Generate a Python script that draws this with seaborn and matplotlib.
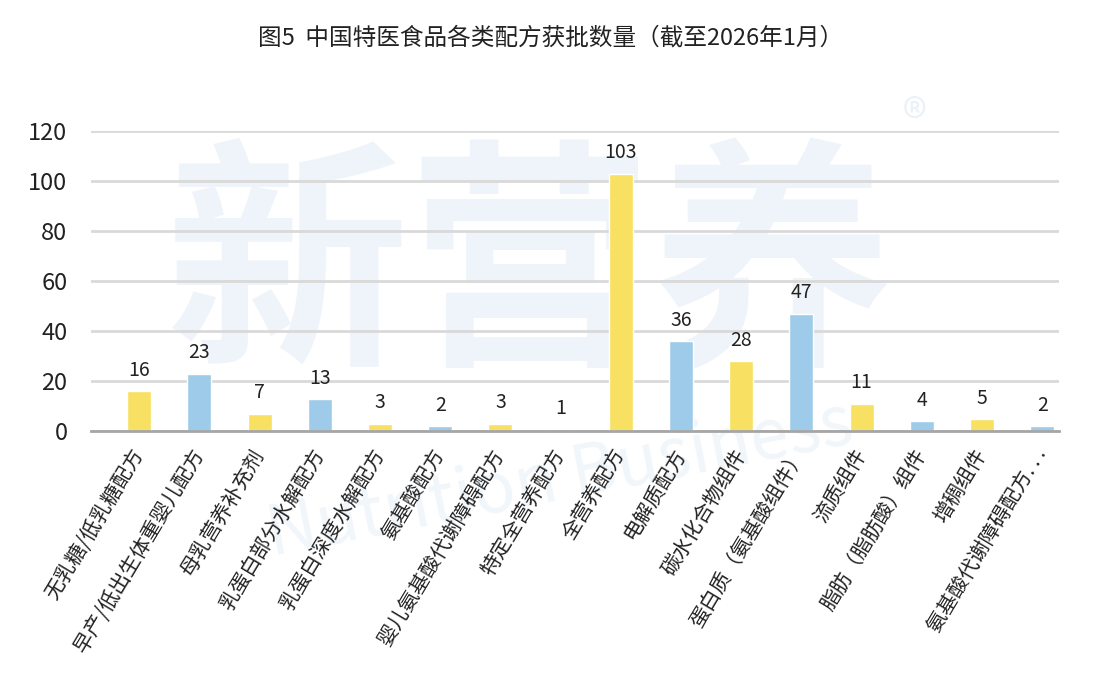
import matplotlib
matplotlib.use("Agg")
import matplotlib.pyplot as plt
import seaborn as sns
import pandas as pd

categories = [
    "无乳糖/低乳糖配方", "早产/低出生体重婴儿配方", "母乳营养补充剂", "乳蛋白部分水解配方",
    "乳蛋白深度水解配方", "氨基酸配方", "婴儿氨基酸代谢障碍配方", "特定全营养配方",
    "全营养配方", "电解质配方", "碳水化合物组件", "蛋白质（氨基酸组件）",
    "流质组件", "脂肪（脂肪酸）组件", "增稠组件", "氨基酸代谢障碍配方. . .",
]
values = [16, 23, 7, 13, 3, 2, 3, 1, 103, 36, 28, 47, 11, 4, 5, 2]
yellow = "#F8E063"
blue = "#9ECBE9"
bar_colors = [yellow if i % 2 == 0 else blue for i in range(len(values))]
title = "图5  中国特医食品各类配方获批数量（截至2026年1月）"
yticks = [0, 20, 40, 60, 80, 100, 120]

sns.set_theme(style="white")
plt.rcParams["font.family"] = ["Noto Sans CJK SC", "DejaVu Sans"]

df = pd.DataFrame({"cat": categories, "val": values})

fig = plt.figure(figsize=(11.02, 6.77), dpi=100)
ax = fig.add_axes([91 / 1102, 1 - 431 / 677, (1059 - 91) / 1102, 300 / 677])
ax.set_zorder(1)
ax.patch.set_alpha(0)

# faint watermark behind the plot
fig.text(530 / 1102, 1 - 275 / 677, "新营养", fontsize=175, fontweight="bold",
         color="#EEF4F9", ha="center", va="center", zorder=-1)
fig.text(560 / 1102, 1 - 480 / 677, "Nutrition Business", fontsize=50, color="#F1F6FB",
         ha="center", va="center", rotation=11, zorder=-1)
fig.text(915 / 1102, 1 - 122 / 677, "®", fontsize=36, color="#EAF1F8",
         ha="center", va="center", zorder=-1)

sns.barplot(data=df, x="cat", y="val", hue="cat", palette=bar_colors, legend=False,
            width=0.4, ax=ax, zorder=3, saturation=1)

for i, v in enumerate(values):
    ax.text(i, v + 4, str(v), ha="center", va="bottom", fontsize=14, color="#222222", zorder=4)

ax.set_xlim(-0.8, 15.28)
ax.set_ylim(0, 120)
ax.set_yticks(yticks)
ax.set_yticklabels([str(t) for t in yticks], fontsize=17, color="#222222")
ax.yaxis.grid(True, color="#D9D9D9", linewidth=2, zorder=0)
ax.set_axisbelow(True)
for s in ["top", "right", "left"]:
    ax.spines[s].set_visible(False)
ax.spines["bottom"].set_color("#A6A6A6")
ax.spines["bottom"].set_linewidth(2)
ax.spines["bottom"].set_zorder(5)
ax.tick_params(axis="y", length=0, pad=17)
ax.tick_params(axis="x", length=0, pad=14)
ax.set_xlabel("")
ax.set_ylabel("")
ax.set_xticks(range(len(categories)))
ax.set_xticklabels(categories, rotation=59, ha="right", va="center", rotation_mode="anchor",
                   fontsize=14.8, color="#222222")

fig.text(0.5, 1 - 38 / 677, title, ha="center", va="center", fontsize=17,
         fontweight="medium", color="#222222")

fig.savefig("out.png", dpi=100)
